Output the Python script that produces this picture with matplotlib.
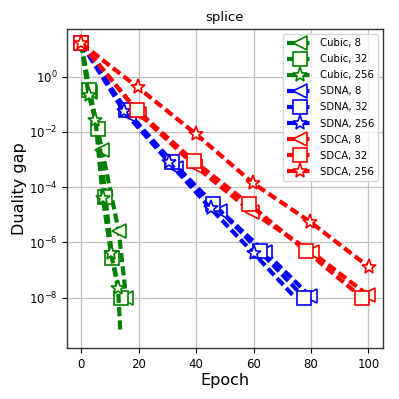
import matplotlib
matplotlib.use("Agg")
import matplotlib.pyplot as plt

# ---- data ----
cubic8_x = [0, 3.0, 7.2, 13.0, 15.6]
cubic8_y = [16, 0.28, 2.2e-3, 2.6e-6, 1.0e-8]
cubic32_x = [0, 2.5, 5.7, 8.4, 10.7, 13.8]
cubic32_y = [16, 0.34, 1.3e-2, 4.5e-5, 2.8e-7, 9.8e-9]
cubic256_x = [0, 2.5, 4.9, 7.5, 10.3, 12.8, 13.6]
cubic256_y = [16, 0.22, 2.8e-2, 3.9e-5, 4.1e-7, 2.2e-8, 5.0e-10]

sdna8_x = [0, 16.5, 33.0, 48.4, 64.0, 79.8]
sdna8_y = [16, 4.2e-2, 5.0e-4, 1.4e-5, 4.5e-7, 1.1e-8]
sdna32_x = [0, 15.5, 31.6, 46.0, 62.1, 77.7]
sdna32_y = [16, 6.3e-2, 8.3e-4, 2.5e-5, 4.8e-7, 1.0e-8]
sdna256_x = [0, 14.7, 30.4, 45.0, 60.0, 74.5]
sdna256_y = [16, 5.8e-2, 8.3e-4, 1.7e-5, 4.1e-7, 1.0e-8]

sdca8_x = [0, 20.2, 39.6, 59.3, 80.2, 100.0]
sdca8_y = [16, 4.5e-2, 5.9e-4, 1.3e-5, 4.5e-7, 1.2e-8]
sdca32_x = [0, 19.4, 39.1, 58.5, 78.4, 97.8]
sdca32_y = [16, 6.0e-2, 9.1e-4, 2.4e-5, 4.8e-7, 1.0e-8]
sdca256_x = [0, 19.7, 40.0, 59.8, 79.8, 100.1]
sdca256_y = [16, 0.41, 8.3e-3, 1.4e-4, 5.5e-6, 1.3e-7]

methods = ["Cubic", "SDNA", "SDCA"]
sizes = [8, 32, 256]
series = {
    ("Cubic", 8): (cubic8_x, cubic8_y),
    ("Cubic", 32): (cubic32_x, cubic32_y),
    ("Cubic", 256): (cubic256_x, cubic256_y),
    ("SDNA", 8): (sdna8_x, sdna8_y),
    ("SDNA", 32): (sdna32_x, sdna32_y),
    ("SDNA", 256): (sdna256_x, sdna256_y),
    ("SDCA", 8): (sdca8_x, sdca8_y),
    ("SDCA", 32): (sdca32_x, sdca32_y),
    ("SDCA", 256): (sdca256_x, sdca256_y),
}
unmarked_last = {("Cubic", 256), ("SDNA", 256)}

colors = {"Cubic": "green", "SDNA": "blue", "SDCA": "red"}
markers = {8: "<", 32: "s", 256: "*"}
msizes = {8: 10.5, 32: 10, 256: 11}

fig = plt.figure(figsize=(3.99, 3.99), dpi=100)
ax = fig.add_axes([67/399, 1-348/399, (383-67)/399, (348-29)/399])

for m in methods:
    for s in sizes:
        x, y = series[(m, s)]
        me = list(range(len(x) - 1)) if (m, s) in unmarked_last else None
        ax.plot(x, y, linestyle=(0, (2.2, 1.0)), lw=3, color=colors[m],
                marker=markers[s], markersize=msizes[s], markeredgewidth=1.2,
                markerfacecolor="#fffff0", markeredgecolor=colors[m],
                markevery=me, label=f"{m}, {s}")

ax.set_yscale("log")
ax.set_xticks([0, 20, 40, 60, 80, 100])
ax.grid(True, which="major", color="#c0c0c0", lw=0.9)
ax.set_axisbelow(True)
ax.tick_params(labelsize=8.5)
for sp in ax.spines.values():
    sp.set_linewidth(1.0)
    sp.set_color("#333333")

ax.set_title("splice", fontsize=9.5)
ax.set_xlabel("Epoch", fontsize=11.5, labelpad=2)
ax.set_ylabel("Duality gap", fontsize=11.5, labelpad=1)

leg = ax.legend(loc="upper right", fontsize=7.3, handlelength=2.6,
                labelspacing=0.6, borderaxespad=0.5, handletextpad=0.6,
                borderpad=0.4)

fig.savefig("out.png", dpi=100)
